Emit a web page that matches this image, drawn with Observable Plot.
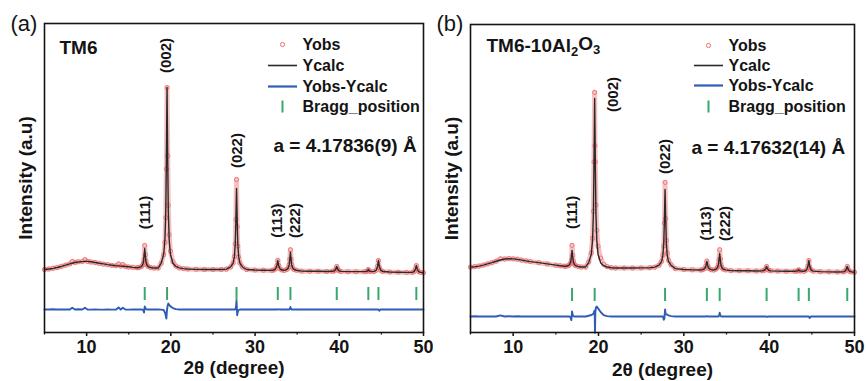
<!DOCTYPE html>
<html>
<head>
<meta charset="utf-8">
<script src="https://cdn.jsdelivr.net/npm/d3@7"></script>
<script src="https://cdn.jsdelivr.net/npm/@observablehq/plot@0.6"></script>
<style>
  html, body { margin: 0; padding: 0; background: #fff; }
  #wrap { display: flex; width: 866px; height: 381px; }
</style>
</head>
<body>
<div id="wrap"></div>
<script>
// Rietveld refinement profiles: rows of [2θ (deg), Yobs, Ycalc] in arbitrary intensity units
const profileA = [
  [5.0, 2.2, 2.2], [5.5, 2.5, 2.5], [6.0, 2.9, 2.8], [6.5, 3.3, 3.3], [7.0, 3.9, 3.9],
  [7.5, 4.6, 4.6], [8.0, 5.3, 5.3], [8.3, 6.7, 5.7], [8.6, 6.1, 6.1], [9.0, 6.5, 6.4],
  [9.5, 6.6, 6.6], [9.8, 7.7, 6.7], [10.1, 6.7, 6.7], [10.5, 6.4, 6.5], [11.0, 6.1, 6.1],
  [11.5, 5.6, 5.7], [12.0, 5.2, 5.3], [12.5, 4.9, 4.9], [13.0, 4.5, 4.6], [13.5, 4.3, 4.3],
  [13.8, 5.3, 4.2], [14.05, 4.1, 4.1], [14.3, 5.0, 4.0], [14.6, 3.9, 3.9], [15.0, 3.6, 3.7],
  [15.5, 3.4, 3.4], [16.0, 3.2, 3.2], [16.2, 3.3, 3.3], [16.5, 3.8, 3.85], [16.65, 4.6, 4.7],
  [16.75, 5.8, 6.5], [16.82, 7.9, 9.6], [16.9, 15.6, 13.9], [16.98, 10.4, 9.6], [17.05, 6.7, 6.5],
  [17.15, 4.7, 4.7], [17.3, 3.9, 3.85], [17.6, 3.3, 3.3], [18.0, 3.0, 3.0], [18.5, 3.0, 3.0],
  [18.85, 5.6, 5.7], [19.15, 10.4, 10.7], [19.3, 17.3, 19.0], [19.4, 31.0, 34.5], [19.47, 58.0, 63.1],
  [19.55, 103.3, 103.3], [19.63, 65.4, 63.1], [19.7, 37.8, 34.5], [19.8, 21.5, 19.0], [19.95, 12.4, 10.7],
  [20.25, 6.5, 5.7], [20.6, 4.1, 3.9], [21.0, 3.1, 3.1], [21.5, 2.7, 2.7], [22.0, 2.5, 2.5],
  [23.0, 2.3, 2.3], [24.0, 2.2, 2.2], [25.0, 2.2, 2.2], [26.0, 2.2, 2.2], [26.6, 2.4, 2.4],
  [27.1, 3.6, 3.6], [27.4, 5.8, 5.8], [27.55, 9.5, 9.5], [27.65, 16.5, 16.5], [27.72, 30.0, 29.2],
  [27.8, 52.2, 47.2], [27.88, 26.0, 29.2], [27.95, 15.2, 16.5], [28.05, 9.1, 9.5], [28.2, 5.8, 5.8],
  [28.5, 3.6, 3.6], [29.0, 2.2, 2.2], [30.0, 1.9, 1.9], [31.0, 1.8, 1.8], [32.0, 1.7, 1.7],
  [32.2, 1.9, 1.9], [32.45, 2.6, 2.6], [32.6, 4.4, 4.45], [32.7, 7.3, 7.2], [32.8, 4.5, 4.45],
  [32.95, 2.6, 2.6], [33.2, 1.9, 1.9], [33.5, 1.7, 1.7], [33.8, 2.3, 2.3], [33.95, 3.2, 3.2],
  [34.05, 4.9, 4.9], [34.12, 7.9, 7.7], [34.2, 13.2, 11.8], [34.28, 7.9, 7.7], [34.35, 4.9, 4.9],
  [34.45, 3.2, 3.2], [34.6, 2.3, 2.3], [34.9, 1.8, 1.8], [35.5, 1.3, 1.3], [36.5, 1.2, 1.2],
  [37.5, 1.2, 1.2], [38.5, 1.1, 1.1], [39.2, 1.2, 1.2], [39.45, 1.5, 1.5], [39.6, 2.5, 2.5],
  [39.7, 3.9, 3.9], [39.8, 2.5, 2.5], [39.95, 1.5, 1.5], [40.2, 1.15, 1.15], [41.0, 1.0, 1.0],
  [42.0, 1.0, 1.0], [43.0, 1.0, 1.0], [43.25, 1.15, 1.15], [43.37, 1.6, 1.6], [43.45, 2.2, 2.2],
  [43.53, 1.6, 1.6], [43.65, 1.15, 1.15], [44.1, 1.0, 1.0], [44.4, 1.85, 1.85], [44.55, 4.05, 4.05],
  [44.65, 7.2, 7.2], [44.75, 3.3, 4.05], [44.9, 1.85, 1.85], [45.15, 1.1, 1.1], [46.0, 0.8, 0.8],
  [47.0, 0.7, 0.7], [48.0, 0.6, 0.6], [48.7, 0.6, 0.6], [48.9, 1.1, 1.1], [49.05, 2.5, 2.5],
  [49.15, 4.4, 4.4], [49.25, 2.5, 2.5], [49.4, 1.1, 1.1], [49.65, 0.6, 0.6], [50.0, 0.4, 0.4]
];

const profileB = [
  [5.0, 3.5, 3.5], [5.5, 3.8, 3.7], [6.0, 4.1, 4.1], [6.5, 4.6, 4.6], [7.0, 5.3, 5.3],
  [7.5, 6.0, 6.0], [8.0, 6.8, 6.8], [8.5, 8.1, 7.5], [9.0, 8.0, 8.0], [9.5, 8.3, 8.2],
  [10.0, 8.1, 8.1], [10.5, 7.9, 7.8], [11.0, 7.4, 7.4], [11.5, 7.0, 7.0], [12.0, 6.6, 6.6],
  [13.0, 6.0, 6.0], [14.0, 5.3, 5.3], [15.0, 4.6, 4.6], [15.5, 4.3, 4.3], [16.0, 4.0, 4.0],
  [16.2, 4.0, 4.0], [16.5, 4.4, 4.4], [16.65, 5.1, 5.2], [16.75, 5.6, 6.6], [16.82, 7.3, 9.3],
  [16.9, 15.6, 12.8], [16.98, 10.1, 9.3], [17.05, 6.8, 6.6], [17.15, 5.2, 5.2], [17.3, 4.4, 4.4],
  [17.6, 3.9, 3.9], [18.0, 3.6, 3.6], [18.5, 3.6, 3.6], [18.85, 6.4, 6.0], [19.15, 11.4, 10.6],
  [19.3, 19.5, 18.4], [19.4, 34.5, 33.0], [19.47, 62.0, 59.6], [19.55, 100.6, 97.2], [19.59, 71.0, 80.0],
  [19.63, 62.0, 59.6], [19.7, 38.0, 33.0], [19.8, 23.9, 18.4], [19.95, 15.1, 10.6], [20.25, 8.5, 6.0],
  [20.6, 5.1, 4.3], [21.0, 3.8, 3.6], [21.5, 3.2, 3.2], [22.0, 3.0, 3.0], [23.0, 3.0, 3.0],
  [24.0, 3.0, 3.0], [25.0, 3.1, 3.1], [26.0, 3.2, 3.2], [26.6, 3.5, 3.5], [27.1, 4.6, 4.6],
  [27.4, 6.7, 6.7], [27.55, 10.3, 10.3], [27.65, 15.3, 17.1], [27.72, 28.0, 29.3], [27.8, 50.6, 46.7],
  [27.88, 30.5, 29.3], [27.95, 18.3, 17.1], [28.05, 11.3, 10.3], [28.2, 7.3, 6.7], [28.5, 4.8, 4.6],
  [29.0, 2.7, 2.7], [30.0, 2.2, 2.2], [31.0, 2.0, 2.0], [32.0, 1.9, 1.9], [32.2, 2.1, 2.1],
  [32.45, 2.7, 2.7], [32.6, 4.3, 4.3], [32.7, 6.9, 6.7], [32.8, 4.3, 4.3], [32.95, 2.7, 2.7],
  [33.2, 2.1, 2.1], [33.5, 1.9, 1.9], [33.8, 2.5, 2.45], [33.95, 3.3, 3.3], [34.05, 4.8, 4.8],
  [34.12, 7.6, 7.4], [34.2, 13.2, 11.1], [34.28, 8.0, 7.4], [34.35, 4.9, 4.8], [34.45, 3.3, 3.3],
  [34.6, 2.45, 2.45], [34.9, 2.0, 2.0], [35.5, 1.6, 1.6], [36.5, 1.5, 1.5], [37.5, 1.5, 1.5],
  [38.5, 1.4, 1.4], [39.2, 1.5, 1.5], [39.45, 1.75, 1.75], [39.6, 2.65, 2.65], [39.7, 3.9, 3.9],
  [39.8, 2.4, 2.65], [39.95, 1.75, 1.75], [40.2, 1.45, 1.45], [41.0, 1.3, 1.3], [42.0, 1.2, 1.2],
  [43.0, 1.2, 1.2], [43.25, 1.3, 1.3], [43.37, 1.6, 1.6], [43.45, 2.0, 2.0], [43.53, 1.6, 1.6],
  [43.65, 1.3, 1.3], [44.1, 1.2, 1.2], [44.4, 2.0, 2.0], [44.55, 4.15, 4.15], [44.65, 7.2, 7.2],
  [44.75, 3.3, 4.15], [44.9, 2.0, 2.0], [45.15, 1.3, 1.3], [46.0, 1.0, 1.0], [47.0, 0.9, 0.9],
  [48.0, 0.85, 0.85], [48.7, 0.9, 0.9], [48.9, 1.25, 1.25], [49.05, 2.35, 2.35], [49.15, 3.9, 3.9],
  [49.25, 2.35, 2.35], [49.4, 1.25, 1.25], [49.65, 0.85, 0.85], [50.0, 0.7, 0.7]
];

// Bragg reflection positions (2θ, deg)
const braggA = [16.9, 19.55, 27.8, 32.7, 34.2, 39.7, 43.45, 44.65, 49.15];
const braggB = [16.9, 19.55, 27.8, 32.7, 34.2, 39.7, 43.45, 44.65, 49.15];

// Indexed reflections that get a label
const hklLabels = ["(111)", "(002)", "(022)", "(113)", "(222)"];
const hklPosA = [16.9, 19.55, 27.8, 32.7, 34.2];
const hklPosB = [16.9, 19.55, 27.8, 32.7, 34.2];

const xTicks = [10, 20, 30, 40, 50];
const xMinorTicks = [5, 15, 25, 35, 45];
const legendItems = ["Yobs", "Ycalc", "Yobs-Ycalc", "Bragg_position"];

const FONT = '"Liberation Sans", Arial, Helvetica, sans-serif';
const INK = "#141414";
const OBS = "#ef7070";
const CALC = "#2a2a2a";
const DIFF = "#2f5db4";
const BRAGG = "#3aa86a";

// short horizontal / vertical strokes used as legend swatches
const hline = {draw(ctx) { ctx.moveTo(-14.5, 0); ctx.lineTo(14.5, 0); }};
const vline = {draw(ctx) { ctx.moveTo(0, -6); ctx.lineTo(0, 6); }};

function panel(cfg) {
  const rows = cfg.profile.map(([t, obs, calc]) => ({t, obs, calc, diff: obs - calc + cfg.diffOffset}));
  const marks = [];

  // observed points: faint band plus open circles
  marks.push(Plot.line(rows, {x: "t", y: "obs", stroke: "#f4a6a6", strokeWidth: 5, strokeOpacity: 0.7}));
  marks.push(Plot.dot(rows, {x: "t", y: "obs", r: 2.1, fill: "none", stroke: OBS, strokeWidth: 0.9}));
  // calculated profile
  marks.push(Plot.line(rows, {x: "t", y: "calc", stroke: CALC, strokeWidth: 1.4}));
  // difference curve, shifted below the pattern
  marks.push(Plot.line(rows, {x: "t", y: "diff", stroke: DIFF, strokeWidth: 1.9}));
  // Bragg reflection markers
  marks.push(Plot.ruleX(cfg.bragg, {x: d => d, y1: cfg.braggY[0], y2: cfg.braggY[1], stroke: BRAGG, strokeWidth: 2}));

  marks.push(Plot.frame({stroke: INK, strokeWidth: 1.6}));
  marks.push(Plot.axisX(xTicks, {anchor: "bottom", tickSize: 4, tickPadding: 4, tickFormat: d => d,
    label: null, fontSize: 18, fontWeight: "bold", stroke: INK, strokeWidth: 1.5}));
  marks.push(Plot.axisX(xMinorTicks, {anchor: "bottom", tickSize: 2.5, tickFormat: () => "",
    label: null, stroke: INK, strokeWidth: 1.3}));

  // panel letter, axis titles
  marks.push(Plot.text([cfg.letter], {frameAnchor: "top-left", dx: -34, dy: cfg.letterDy, textAnchor: "start",
    lineAnchor: "middle", fontSize: 22, fontWeight: "normal", fill: INK}));
  marks.push(Plot.text(["Intensity (a.u)"], {frameAnchor: "left", dx: -19, rotate: -90,
    textAnchor: "middle", lineAnchor: "middle", fontSize: 19, fontWeight: "bold", fill: INK}));
  marks.push(Plot.text(["2θ (degree)"], {frameAnchor: "bottom", dy: cfg.xTitleDy, textAnchor: "middle",
    lineAnchor: "middle", fontSize: 19, fontWeight: "bold", fill: INK}));

  // sample name and lattice parameter
  marks.push(Plot.text([cfg.sample], {frameAnchor: "top-left", dx: cfg.sampleDx, dy: cfg.sampleDy,
    textAnchor: "start", lineAnchor: "middle", fontSize: 19, fontWeight: "bold", fill: INK,
    className: "sample-name"}));
  marks.push(Plot.text([cfg.lattice], {frameAnchor: "top-left", dx: cfg.latticeDx, dy: cfg.latticeDy,
    textAnchor: "start", lineAnchor: "middle", fontSize: 19, fontWeight: "bold", fill: INK}));

  // legend
  const ly = cfg.legendDy;
  marks.push(Plot.dot([0], {frameAnchor: "top-left", dx: cfg.swatchDx, dy: ly[0], r: 2.1, fill: "none", stroke: OBS, strokeWidth: 1}));
  marks.push(Plot.dot([0], {frameAnchor: "top-left", dx: cfg.swatchDx, dy: ly[1], symbol: hline, fill: "none", stroke: CALC, strokeWidth: 1.6}));
  marks.push(Plot.dot([0], {frameAnchor: "top-left", dx: cfg.swatchDx, dy: ly[2], symbol: hline, fill: "none", stroke: DIFF, strokeWidth: 2.2}));
  marks.push(Plot.dot([0], {frameAnchor: "top-left", dx: cfg.swatchDx, dy: ly[3], symbol: vline, fill: "none", stroke: BRAGG, strokeWidth: 2}));
  legendItems.forEach((label, i) => {
    marks.push(Plot.text([label], {frameAnchor: "top-left", dx: cfg.legendTextDx, dy: ly[i],
      textAnchor: "start", lineAnchor: "middle", fontSize: 16, fontWeight: "bold", fill: INK}));
  });

  // reflection labels, rotated
  hklLabels.forEach((label, i) => {
    marks.push(Plot.text([label], {x: () => cfg.hklPos[i], y: () => cfg.hklY[i], dx: cfg.hklDx[i],
      rotate: -90, fontSize: 15, fontWeight: "bold", fill: INK}));
  });

  const svg = Plot.plot({
    width: 433,
    height: 381,
    marginLeft: cfg.margin[3],
    marginRight: cfg.margin[1],
    marginTop: cfg.margin[0],
    marginBottom: cfg.margin[2],
    x: {domain: [5, 50]},
    y: {domain: cfg.yDomain, axis: null},
    style: {fontFamily: FONT, background: "white", color: INK, overflow: "visible"},
    marks
  });

  // chemical formula: rebuild the sample name with real subscripts
  if (cfg.sampleParts) {
    d3.select(svg).selectAll(".sample-name text").each(function() {
      const t = d3.select(this);
      t.text(null);
      cfg.sampleParts.forEach(([s, sub]) => {
        const span = t.append("tspan").text(s);
        if (sub) span.attr("font-size", 13).attr("dy", "0.32em");
        else if (t.selectAll("tspan").size() > 1) span.attr("dy", "-0.32em");
      });
    });
  }
  return svg;
}

const wrap = document.getElementById("wrap");
wrap.append(panel({
  profile: profileA, bragg: braggA, hklPos: hklPosA,
  margin: [23, 10, 49, 44], yDomain: [-32.8, 138.9],
  diffOffset: -20, braggY: [-7.8, -15.0],
  letter: "(a)", letterDy: 0, xTitleDy: 35,
  sample: "TM6", sampleDx: 15, sampleDy: 24,
  lattice: "a = 4.17836(9) Å", latticeDx: 229, latticeDy: 122,
  legendDy: [21, 42, 63, 83], swatchDx: 238, legendTextDx: 258,
  hklY: [33.9, 121.1, 68.3, 29.4, 29.4], hklDx: [0, -1, 1, -1, 5]
}));
wrap.append(panel({
  profile: profileB, bragg: braggB, hklPos: hklPosB,
  margin: [24, 12, 49, 37], yDomain: [-32.8, 138.3],
  diffOffset: -23.9, braggY: [-8.3, -15.6],
  letter: "(b)", letterDy: -1, xTitleDy: 37,
  sample: "TM6-10Al2O3", sampleDx: 16, sampleDy: 21,
  sampleParts: [["TM6-10Al", false], ["2", true], ["O", false], ["3", true]],
  lattice: "a = 4.17632(14) Å", latticeDx: 221, latticeDy: 123,
  legendDy: [21, 41, 61, 82], swatchDx: 238, legendTextDx: 258,
  hklY: [33.9, 99.4, 65, 27.8, 27.8], hklDx: [0, 19, 0, -1, 6]
}));
</script>
</body>
</html>
